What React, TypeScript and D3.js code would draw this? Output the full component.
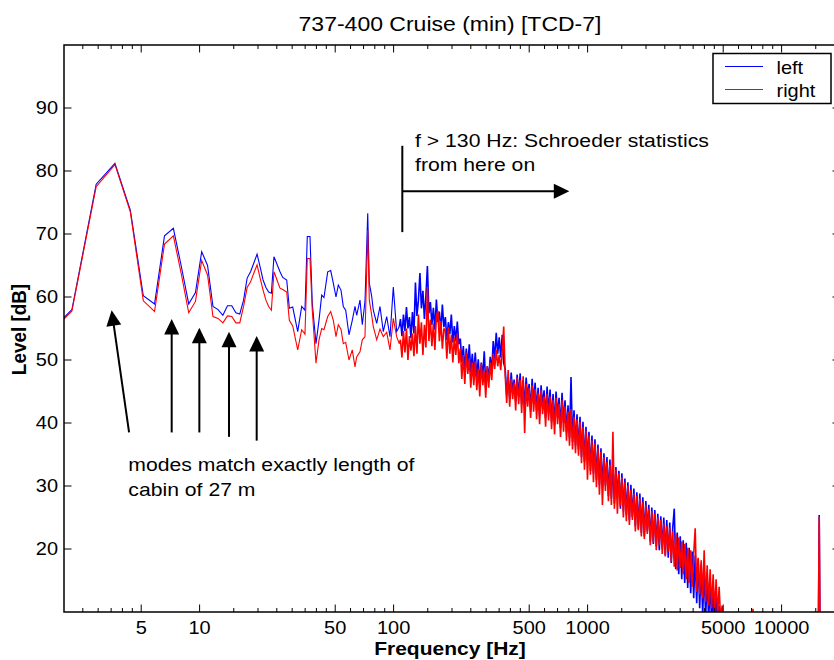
import React from 'react';
import * as d3 from 'd3';

// ---------------- DATA ----------------
// Low-frequency FFT bins (Hz) and levels (dB)
const lowFreq = [1.465, 2.197, 2.930, 3.662, 4.394, 5.127, 5.859, 6.592, 7.324, 8.057,
  8.789, 9.521, 10.25, 10.99, 11.72, 12.45, 13.18, 13.92, 14.65, 15.38,
  16.11, 16.85, 17.58, 18.31, 19.04, 19.78, 20.51, 21.24, 21.97, 22.70,
  23.44, 24.17,
  25.97, 26.82, 28.12, 29.01, 30.20, 32.04, 33.59, 34.93, 35.90, 37.07,
  38.09, 39.81, 41.25, 42.60, 43.77, 45.74, 47.40, 48.89, 50.48, 51.87,
  53.56, 55.04, 56.63, 58.89, 61.24, 63.24, 64.52, 67.10, 68.98, 71.21,
  73.56, 74.95, 77.11, 78.58, 81.84, 85.09, 88.49, 92.13, 95.81, 99.64,
  103.7, 107.0];
const leftLow = [52.5, 58.0, 77.9, 81.2, 73.8, 60.2, 58.9, 69.7, 70.9, 64.8,
  58.9, 60.7, 67.2, 65.0, 58.5, 58.0, 57.1, 58.6, 58.6, 57.5,
  57.3, 59.5, 63.0, 64.0, 65.4, 66.8, 64.8, 62.7, 61.5, 60.8,
  60.6, 66.4,
  64.0, 63.1, 62.7, 58.2, 58.4, 54.5, 58.5, 57.9, 69.6, 69.6,
  59.0, 52.6, 56.3, 60.3, 59.9, 64.0, 64.2, 62.2, 60.0, 61.9,
  61.1, 58.5, 57.9, 54.0, 56.3, 58.5, 57.1, 59.5, 55.6, 59.3,
  73.3, 62.2, 60.1, 57.9, 55.8, 58.5, 54.5, 56.9, 53.7, 61.6,
  54.5, 55.3];
const rightLow = [52.2, 57.8, 77.5, 81.0, 73.5, 59.4, 57.7, 68.4, 69.7, 63.6,
  57.5, 59.3, 65.8, 63.5, 56.9, 56.6, 55.9, 57.0, 56.9, 55.9,
  55.9, 58.5, 61.5, 62.4, 63.8, 65.1, 63.0, 61.1, 59.5, 58.5,
  57.9, 64.0,
  61.4, 61.2, 60.8, 56.3, 55.4, 51.6, 54.8, 54.1, 66.1, 66.1,
  57.9, 49.5, 53.2, 55.0, 54.8, 56.9, 57.7, 56.3, 53.7, 55.6,
  54.9, 52.6, 52.8, 50.0, 51.6, 48.9, 50.5, 51.3, 53.2, 53.7,
  70.6, 59.5, 57.1, 55.3, 53.2, 54.9, 53.7, 54.4, 51.6, 56.6,
  53.7, 52.6];

// Dense part of the spectrum (log-spaced readings between these two frequencies)
const denseStartHz = 108.5;
const denseEndHz = 5300;
const leftDense = [
  56.5, 53.8, 57.2, 54.6, 58.4, 55.0, 56.8, 53.5, 57.6, 54.2,
  62.3, 57.0, 59.5, 63.8, 58.2, 61.0, 56.5, 60.2, 64.9, 57.4,
  59.2, 55.6, 58.3, 54.8, 59.6, 56.0, 57.7, 54.5, 58.8, 55.2,
  56.8, 53.2, 56.0, 54.1, 57.2, 52.8, 55.4, 53.0, 56.1, 52.5,
  53.4, 49.6, 52.2, 48.5, 51.8, 49.2, 52.5, 48.0, 51.0, 47.8,
  51.2, 47.3, 50.1, 46.2, 49.6, 47.5, 51.4, 46.0, 49.0, 47.2,
  50.5, 48.2, 53.0, 50.2, 54.3, 51.0, 53.6, 50.4, 54.0, 49.5,
  48.6, 44.5, 47.3, 43.8, 48.0, 45.1, 46.9, 43.5, 47.7, 44.2,
  47.9, 43.0, 46.8, 42.4, 47.2, 44.0, 46.2, 41.8, 47.0, 43.2,
  46.4, 42.0, 45.6, 41.2, 46.0, 42.8, 45.2, 40.8, 45.8, 41.6,
  45.3, 40.2, 44.6, 39.6, 45.0, 41.0, 44.0, 39.2, 44.8, 40.0,
  43.6, 38.5, 42.8, 37.6, 47.3, 37.0, 42.0, 36.4, 41.4, 35.8,
  41.0, 34.6, 40.2, 33.8, 39.4, 34.2, 38.6, 32.4, 38.0, 32.0,
  37.4, 31.0, 36.6, 30.2, 36.0, 29.6, 35.2, 30.0, 34.6, 28.4,
  34.2, 28.0, 33.6, 27.2, 33.0, 28.2, 32.4, 26.4, 32.0, 26.0,
  31.2, 25.4, 30.6, 24.6, 30.2, 25.0, 29.6, 23.6, 29.0, 23.2,
  28.8, 22.6, 28.2, 22.0, 27.6, 22.8, 27.0, 21.2, 26.6, 20.8,
  26.2, 20.4, 25.6, 19.8, 25.2, 20.0, 25.0, 19.0, 24.6, 18.6,
  24.2, 17.8, 23.4, 26.4, 16.8, 22.6, 16.0, 22.0, 15.2, 21.4,
  14.6, 21.0, 13.8, 20.2, 13.0, 19.6, 12.2, 19.0, 11.4, 18.4,
  10.6, 17.6, 9.6, 16.8, 9.0, 16.0, 8.6, 15.0, 8.0, 14.2,
  7.6, 12.6, 7.0, 11.0, 6.6, 9.6, 6.0, 8.0, 5.6, 5.0];
const rightDense = [
  53.2, 50.4, 54.6, 51.2, 55.0, 50.0, 53.8, 51.5, 54.2, 50.6,
  55.4, 51.0, 57.2, 52.6, 56.0, 50.8, 55.6, 52.0, 61.6, 53.0,
  56.4, 52.2, 55.8, 51.6, 57.0, 57.8, 53.0, 56.2, 51.8, 55.0,
  54.6, 50.2, 55.2, 51.0, 54.0, 49.6, 53.6, 50.8, 54.2, 49.5,
  51.8, 47.0, 50.8, 46.2, 51.2, 47.8, 50.2, 45.6, 49.6, 46.0,
  49.8, 45.2, 48.6, 44.2, 49.4, 46.0, 48.2, 44.0, 49.0, 45.6,
  49.6, 46.8, 51.0, 48.6, 51.6, 49.0, 50.8, 48.4, 51.2, 55.3,
  47.6, 43.2, 48.4, 42.6, 47.0, 43.8, 46.4, 42.0, 47.2, 43.0,
  46.8, 41.6, 47.4, 38.4, 46.2, 42.6, 45.6, 40.8, 46.0, 41.8,
  45.4, 40.6, 44.8, 39.8, 45.2, 41.4, 44.2, 39.4, 44.6, 40.4,
  44.2, 39.0, 43.6, 38.2, 44.0, 39.8, 43.0, 37.8, 43.6, 38.6,
  42.6, 37.2, 41.8, 36.4, 42.2, 35.8, 41.0, 35.2, 40.6, 34.8,
  40.2, 33.6, 39.4, 32.6, 38.8, 31.0, 38.0, 31.8, 37.2, 30.6,
  36.8, 29.8, 36.0, 28.6, 35.4, 27.0, 34.6, 29.2, 33.8, 27.6,
  33.4, 27.0, 38.6, 26.4, 32.6, 25.6, 32.0, 26.8, 31.4, 25.0,
  30.6, 24.4, 30.0, 23.8, 29.4, 24.6, 28.8, 22.8, 28.4, 23.0,
  28.0, 22.0, 27.4, 21.6, 27.0, 22.4, 26.4, 20.6, 26.0, 21.0,
  25.6, 19.8, 25.0, 20.6, 24.6, 19.2, 24.0, 18.8, 23.6, 19.6,
  23.4, 18.0, 22.8, 17.2, 22.4, 16.6, 21.8, 17.0, 21.2, 16.0,
  20.8, 15.2, 20.2, 14.6, 19.8, 14.0, 19.2, 23.3, 13.2, 18.6,
  12.8, 18.2, 12.2, 19.8, 11.6, 17.4, 11.0, 16.8, 10.6, 16.0,
  10.0, 15.2, 9.4, 14.0, 8.8, 11.0, 7.0, 8.0, 5.8, 5.0];

// High-frequency tail (mostly below the axis, with the 15.6 kHz line)
const tailFreq = [5600, 7000, 7120, 7250, 15450, 15625, 15800, 20000];
const leftTail = [4, 4, 4, 4, 4, 25.4, 4, 4];
const rightTail = [4, 4, 10.5, 4, 4, 25.1, 4, 4];

// Axes
const xDomain = [2, 20000];
const yDomain = [10, 100];
const xMajorTicks = [5, 10, 50, 100, 500, 1000, 5000, 10000];
const xMajorLabels = ['5', '10', '50', '100', '500', '1000', '5000', '10000'];
const xMinorTicks = [2.5, 3, 3.5, 4, 4.5, 15, 20, 25, 30, 35, 40, 45, 60, 70, 80, 90,
  150, 200, 250, 300, 350, 400, 450, 600, 700, 800, 900,
  1500, 2000, 2500, 3000, 3500, 4000, 4500, 6000, 7000, 8000, 9000, 15000];
const yTicks = [20, 30, 40, 50, 60, 70, 80, 90];

const seriesNames = ['left', 'right'];
const seriesColors = ['#0000ff', '#ff0000'];

// Annotations (data coordinates: Hz, dB)
const modeArrowTipFreq = [3.52, 7.18, 9.97, 14.18, 19.69];
const modeArrowTipLevel = [57.9, 56.5, 55.1, 54.5, 53.8];
const modeArrowTailFreq = [4.33, 7.18, 9.97, 14.18, 19.69];
const modeArrowTailLevel = [38.5, 38.5, 38.5, 37.8, 37.2];
const modeText = ['modes match exactly length of', 'cabin of 27 m'];
const modeTextAnchor = [4.29, 32.4];
const schroederMarkerFreq = 110.9;
const schroederMarkerLevels = [84.0, 70.3];
const schroederArrowLevel = 76.8;
const schroederArrowEndFreq = 805;
const schroederText = ['f > 130 Hz: Schroeder statistics', 'from here on'];
const schroederTextAnchor = [129, 83.86];

const titleText = '737-400 Cruise (min) [TCD-7]';
const xLabel = 'Frequency [Hz]';
const yLabel = 'Level [dB]';

// ---------------- CHART ----------------
const W = 834;
const H = 660;
const PL = 64, PR = 840, PT = 45, PB = 612;
const SQ = 0.9; // vertical text squash of the reference
const FONT = "'Liberation Sans', Arial, Helvetica, sans-serif";

const x = d3.scaleLog().domain(xDomain).range([PL, PR]);
const y = d3.scaleLinear().domain(yDomain).range([PB, PT]);

const denseFreq = leftDense.map((_, i) =>
  denseStartHz * Math.pow(denseEndHz / denseStartHz, i / (leftDense.length - 1)));

type Pt = [number, number];

function lowPart(low: number[]): Pt[] {
  return lowFreq.map((f, i) => [f, low[i]] as Pt);
}
function densePart(low: number[], dense: number[], tail: number[]): Pt[] {
  const pts: Pt[] = [[lowFreq[lowFreq.length - 1], low[low.length - 1]]];
  denseFreq.forEach((f, i) => pts.push([f, dense[i]]));
  tailFreq.forEach((f, i) => pts.push([f, tail[i]]));
  return pts;
}

const lows = [lowPart(leftLow), lowPart(rightLow)];
const denses = [densePart(leftLow, leftDense, leftTail), densePart(rightLow, rightDense, rightTail)];

const lineGen = d3.line<Pt>().x(d => x(d[0])).y(d => y(d[1]));

function Txt(props: { x: number; y: number; text: string; size?: number; anchor?: string; weight?: string; rotate?: number; dy?: string }) {
  const { text, size = 20, anchor = 'start', weight = 'normal', rotate = 0, dy } = props;
  return (
    <text
      transform={`translate(${props.x},${props.y}) scale(1,${SQ})${rotate ? ` rotate(${rotate})` : ''}`}
      fontFamily={FONT}
      fontSize={size}
      fontWeight={weight}
      textAnchor={anchor as any}
      dy={dy}
      fill="#000"
    >
      {text}
    </text>
  );
}

function Arrow(props: { x1: number; y1: number; x2: number; y2: number }) {
  const { x1, y1, x2, y2 } = props;
  const len = Math.hypot(x2 - x1, y2 - y1);
  const ux = (x2 - x1) / len, uy = (y2 - y1) / len;
  const hl = 15.5, hw = 7.5;
  const bx = x2 - ux * hl, by = y2 - uy * hl;
  const px = -uy, py = ux;
  const head = `${x2},${y2} ${bx + px * hw},${by + py * hw} ${bx - px * hw},${by - py * hw}`;
  return (
    <g>
      <line x1={x1} y1={y1} x2={bx + ux * 1} y2={by + uy * 1} stroke="#000" strokeWidth={2} />
      <polygon points={head} fill="#000" />
    </g>
  );
}

export default function App() {
  const majorLen = 7.5, minorLen = 4;
  return (
    <svg width={W} height={H} style={{ position: 'absolute', left: 0, top: 0, display: 'block', background: '#fff' }}>
      <rect x={0} y={0} width={W} height={H} fill="#fff" />
      <defs>
        <clipPath id="plotClip">
          <rect x={PL} y={PT} width={PR - PL} height={PB - PT} />
        </clipPath>
      </defs>

      {/* Curves */}
      <g clipPath="url(#plotClip)">
        {[0, 1].map(i => (
          <g key={i}>
            <path d={lineGen(lows[i]) || ''} fill="none" stroke={seriesColors[i]} strokeWidth={1.1} />
            <path d={lineGen(denses[i]) || ''} fill="none" stroke={seriesColors[i]} strokeWidth={1.6} strokeLinejoin="bevel" />
          </g>
        ))}
      </g>

      {/* Axes box */}
      <rect x={PL} y={PT} width={PR - PL} height={PB - PT} fill="none" stroke="#000" strokeWidth={1.5} />

      {/* X ticks */}
      {xMajorTicks.map((t, i) => (
        <g key={'xm' + i}>
          <line x1={x(t)} x2={x(t)} y1={PB} y2={PB - majorLen} stroke="#000" strokeWidth={1} />
          <line x1={x(t)} x2={x(t)} y1={PT} y2={PT + majorLen} stroke="#000" strokeWidth={1} />
          <Txt x={x(t)} y={634} text={xMajorLabels[i]} anchor="middle" />
        </g>
      ))}
      {xMinorTicks.map((t, i) => (
        <g key={'xn' + i}>
          <line x1={x(t)} x2={x(t)} y1={PB} y2={PB - minorLen} stroke="#000" strokeWidth={1} />
          <line x1={x(t)} x2={x(t)} y1={PT} y2={PT + minorLen} stroke="#000" strokeWidth={1} />
        </g>
      ))}

      {/* Y ticks */}
      {yTicks.map((t, i) => (
        <g key={'y' + i}>
          <line x1={PL} x2={PL + majorLen} y1={y(t)} y2={y(t)} stroke="#000" strokeWidth={1} />
          <line x1={PR} x2={PR - majorLen} y1={y(t)} y2={y(t)} stroke="#000" strokeWidth={1} />
          <Txt x={PL - 6} y={y(t)} text={String(t)} anchor="end" dy="0.36em" />
        </g>
      ))}

      {/* Title and axis labels */}
      <Txt x={450} y={31} text={titleText} anchor="middle" size={23} />
      <Txt x={450} y={655} text={xLabel} anchor="middle" size={21} weight="bold" />
      <Txt x={26} y={(PT + PB) / 2 + 1} text={yLabel} anchor="middle" size={21} weight="bold" rotate={-90} />

      {/* Schroeder annotation */}
      <line x1={x(schroederMarkerFreq)} x2={x(schroederMarkerFreq)} y1={y(schroederMarkerLevels[0])} y2={y(schroederMarkerLevels[1])} stroke="#000" strokeWidth={2} />
      <Arrow x1={x(schroederMarkerFreq)} y1={y(schroederArrowLevel)} x2={x(schroederArrowEndFreq)} y2={y(schroederArrowLevel)} />
      {schroederText.map((t, i) => (
        <Txt key={'st' + i} x={x(schroederTextAnchor[0])} y={y(schroederTextAnchor[1]) + i * 24} text={t} size={21.2} />
      ))}

      {/* Mode arrows */}
      {modeArrowTipFreq.map((f, i) => (
        <Arrow key={'ma' + i}
          x1={x(modeArrowTailFreq[i])} y1={y(modeArrowTailLevel[i])}
          x2={x(f)} y2={y(modeArrowTipLevel[i])} />
      ))}
      {modeText.map((t, i) => (
        <Txt key={'mt' + i} x={x(modeTextAnchor[0])} y={y(modeTextAnchor[1]) + i * 25} text={t} size={21.2} />
      ))}

      {/* Legend */}
      <g>
        <rect x={713} y={53.5} width={118} height={50} fill="#fff" stroke="#000" strokeWidth={1.5} />
        {seriesNames.map((n, i) => (
          <g key={'lg' + i}>
            <line x1={725} x2={763} y1={66.5 + i * 23} y2={66.5 + i * 23} stroke={seriesColors[i]} strokeWidth={1.2} />
            <Txt x={776.5} y={73.5 + i * 23} text={n} size={20} />
          </g>
        ))}
      </g>
    </svg>
  );
}
